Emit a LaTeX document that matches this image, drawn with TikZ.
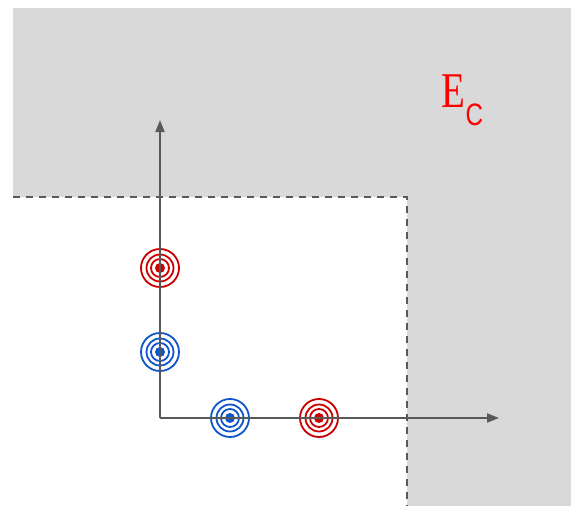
\documentclass[tikz,border=0pt]{standalone}
\usepackage{fontspec}
\setmainfont{Liberation Serif}
\newfontfamily\ecsans{Liberation Sans}
\usetikzlibrary{arrows.meta}
\definecolor{bggray}{HTML}{D9D9D9}
\definecolor{axgray}{HTML}{595959}
\definecolor{tred}{HTML}{CC0000}
\definecolor{tblue}{HTML}{1155CC}
\tikzset{
  axisline/.style={draw=axgray, line width=2pt, -{Triangle[length=12pt,width=9pt]}},
  borderline/.style={draw=axgray, line width=2pt, dash pattern=on 7pt off 6pt},
  ringnode/.style={circle, draw=#1, line width=1.8pt, minimum size=38pt, inner sep=0pt},
  ringline/.style={draw=#1, line width=1.8pt},
}
\newcommand{\targetrings}[2]{%
  \draw[ringline=#2] (#1) circle (13.5pt);
  \draw[ringline=#2] (#1) circle (9pt);
  \fill[#2] (#1) circle (5pt);
}
\begin{document}
\begin{tikzpicture}[x=1pt,y=-1pt]
\useasboundingbox (0,0) rectangle (571,506);
\fill[bggray] (13,8) -- (571,8) -- (571,506) -- (407,506) -- (407,197) -- (13,197) -- cycle;
\coordinate (bl) at (13,197);
\coordinate (bc) at (407,197);
\coordinate (bb) at (407,506);
\draw[borderline] (bl) -- (bc) -- (bb);

\node[anchor=base west, inner sep=0pt, text=red] (E) at (441,107.3) {\scalebox{0.78}[1]{\fontsize{50}{50}\selectfont E}};
\node[anchor=base west, inner sep=0pt, text=red] (C) at (465.5,125) {\scalebox{0.78}[1]{\fontsize{31}{31}\selectfont\ecsans C}};

\node[ringnode=tred] (r1) at (160,268) {};
\node[ringnode=tblue] (b1) at (160,352) {};
\node[ringnode=tblue] (b2) at (230,418) {};
\node[ringnode=tred] (r2) at (319,418) {};
\targetrings{r1}{tred}
\targetrings{b1}{tblue}
\targetrings{b2}{tblue}
\targetrings{r2}{tred}

\coordinate (o) at (160,418);
\coordinate (ytip) at (160,120);
\coordinate (xtip) at (499,418);
\draw[axisline] (o) -- (ytip);
\draw[axisline] (o) -- (xtip);
\end{tikzpicture}
\end{document}
